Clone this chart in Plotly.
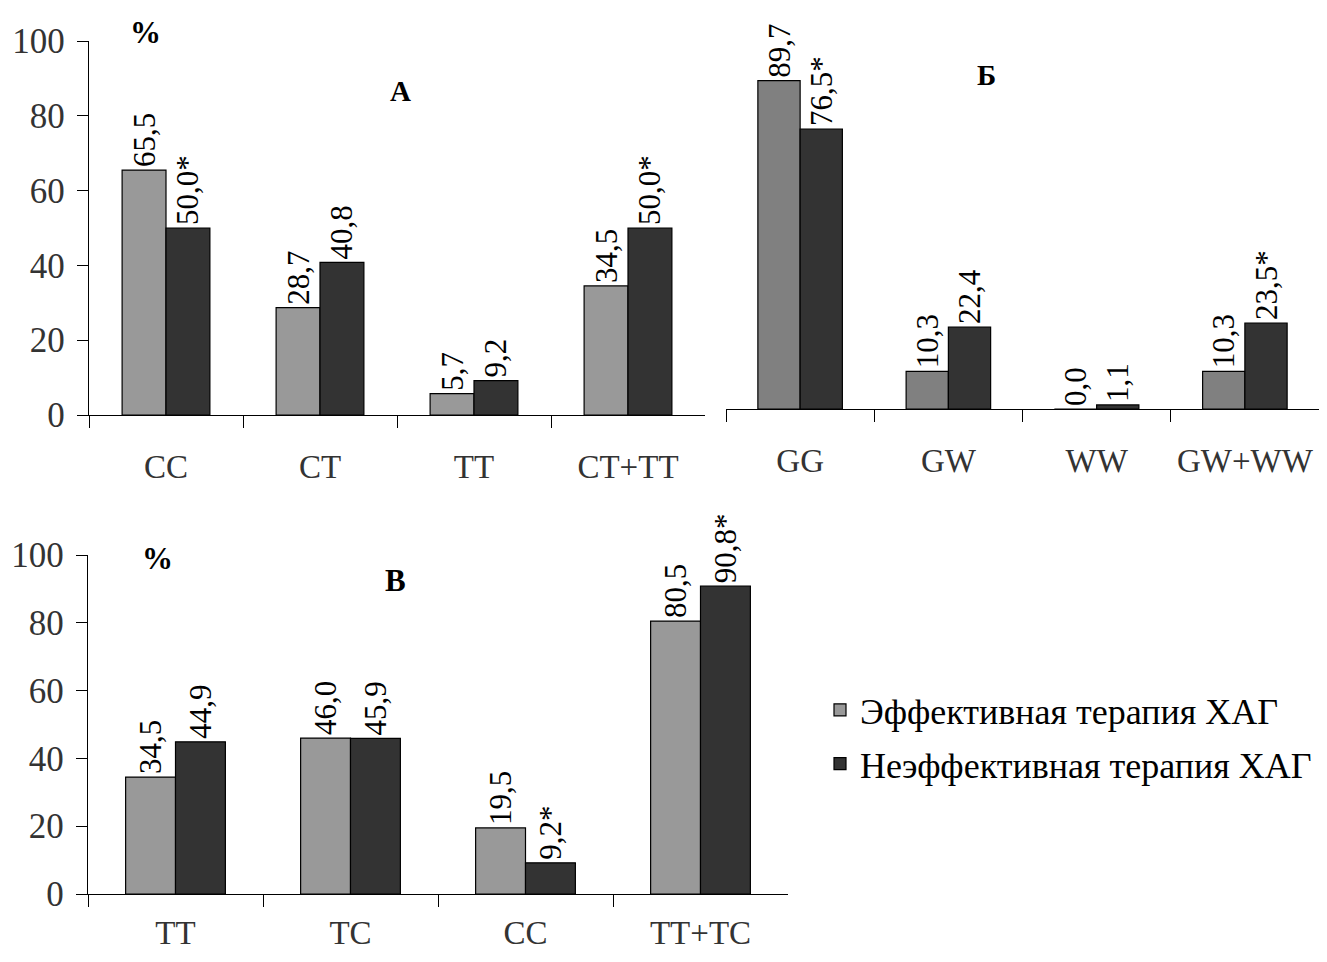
import plotly.graph_objects as go

OFF = 8  # default page body margin
W, H = 1327 - 2 * OFF, 962 - 2 * OFF  # figure fits the window without scrollbars

# ---- data ----
series_names = ["Эффективная терапия ХАГ", "Неэффективная терапия ХАГ"]

cats_a = ["CC", "CT", "TT", "CT+TT"]
eff_a = [65.5, 28.7, 5.7, 34.5]
ineff_a = [50.0, 40.8, 9.2, 50.0]
sig_eff_a = [False, False, False, False]
sig_ineff_a = [True, False, False, True]

cats_b = ["GG", "GW", "WW", "GW+WW"]
eff_b = [89.7, 10.3, 0.0, 10.3]
ineff_b = [76.5, 22.4, 1.1, 23.5]
sig_eff_b = [False, False, False, False]
sig_ineff_b = [True, False, False, True]

cats_c = ["TT", "TC", "CC", "TT+TC"]
eff_c = [34.5, 46.0, 19.5, 80.5]
ineff_c = [44.9, 45.9, 9.2, 90.8]
sig_eff_c = [False, False, False, False]
sig_ineff_c = [False, False, True, True]

y_ticks = [0, 20, 40, 60, 80, 100]

# ---- style ----
FONT = "Liberation Serif"
LIGHT = "#999999"
LIGHT_B = "#808080"
DARK = "#333333"
TXT = "#333333"


def px(x):
    return min(1.0, max(0.0, (x - OFF) / W))


def py(y):
    return min(1.0, max(0.0, 1 - (y - OFF) / H))


def labels(vals, sig):
    return [f"{v:.1f}".replace(".", ",") + ("*" if s else "") for v, s in zip(vals, sig)]


fig = go.Figure()

panels = [
    ("x", "y", cats_a, eff_a, ineff_a, sig_eff_a, sig_ineff_a, LIGHT, True),
    ("x2", "y2", cats_b, eff_b, ineff_b, sig_eff_b, sig_ineff_b, LIGHT_B, False),
    ("x3", "y3", cats_c, eff_c, ineff_c, sig_eff_c, sig_ineff_c, LIGHT, False),
]

for xa, ya, cats, e, n, se, sn, lc, show in panels:
    for vals, sig, col, name in [(e, se, lc, series_names[0]), (n, sn, DARK, series_names[1])]:
        fig.add_trace(go.Bar(
            x=cats, y=vals, name=name, xaxis=xa, yaxis=ya,
            marker=dict(color=col, line=dict(color="black", width=1.2)),
            text=labels(vals, sig), textposition="outside", textangle=-90,
            textfont=dict(family=FONT, size=31, color="black"),
            constraintext="none", cliponaxis=False,
            showlegend=show, legendgroup=name,
        ))


def xax(standoff):
    return dict(showline=True, linecolor="black", linewidth=1.3, ticks="outside",
                tickson="boundaries", ticklen=12, tickcolor="black", tickwidth=1.3,
                tickangle=0, tickfont=dict(family=FONT, size=33, color=TXT),
                ticklabelstandoff=standoff, showgrid=False, zeroline=False,
                fixedrange=True, automargin=False)


ycommon = dict(range=[0, 100], tickvals=y_ticks, showline=True, linecolor="black",
               linewidth=1.3, ticks="outside", ticklen=11, tickcolor="black", tickwidth=1.3,
               tickfont=dict(family=FONT, size=35, color=TXT), ticklabelstandoff=5,
               showgrid=False, zeroline=False, fixedrange=True, automargin=False)

fig.update_layout(
    width=W, height=H,
    margin=dict(l=0, r=0, t=0, b=0, autoexpand=False),
    paper_bgcolor="white", plot_bgcolor="white",
    barmode="group", bargap=0.43, bargroupgap=0,
    font=dict(family=FONT, color=TXT),
    xaxis=dict(domain=[px(89), px(705)], anchor="y", **xax(22)),
    yaxis=dict(domain=[py(415), py(41)], anchor="x", **ycommon),
    xaxis2=dict(domain=[px(726), px(1326)], anchor="y2", **xax(22)),
    yaxis2=dict(domain=[py(409), py(43)], anchor="x2", range=[0, 100], visible=False,
                fixedrange=True, automargin=False),
    xaxis3=dict(domain=[px(88), px(788)], anchor="y3", **xax(9)),
    yaxis3=dict(domain=[py(894), py(555)], anchor="x3", **ycommon),
    legend=dict(x=px(820), y=py(680), xanchor="left", yanchor="top",
                font=dict(family=FONT, size=36, color="black"),
                traceorder="grouped", tracegroupgap=4, bgcolor="rgba(0,0,0,0)"),
)

annots = [
    ("%", 145, 33, 31),
    ("A", 400, 91, 29),
    ("Б", 986, 75, 29),
    ("%", 157, 558, 31),
    ("В", 395, 580, 31),
]
for t, x, y, s in annots:
    fig.add_annotation(text=f"<b>{t}</b>", x=px(x), y=py(y), xref="paper", yref="paper",
                       xanchor="center", yanchor="middle", showarrow=False,
                       font=dict(family=FONT, size=s, color="black"))

fig.write_html("out.html")
